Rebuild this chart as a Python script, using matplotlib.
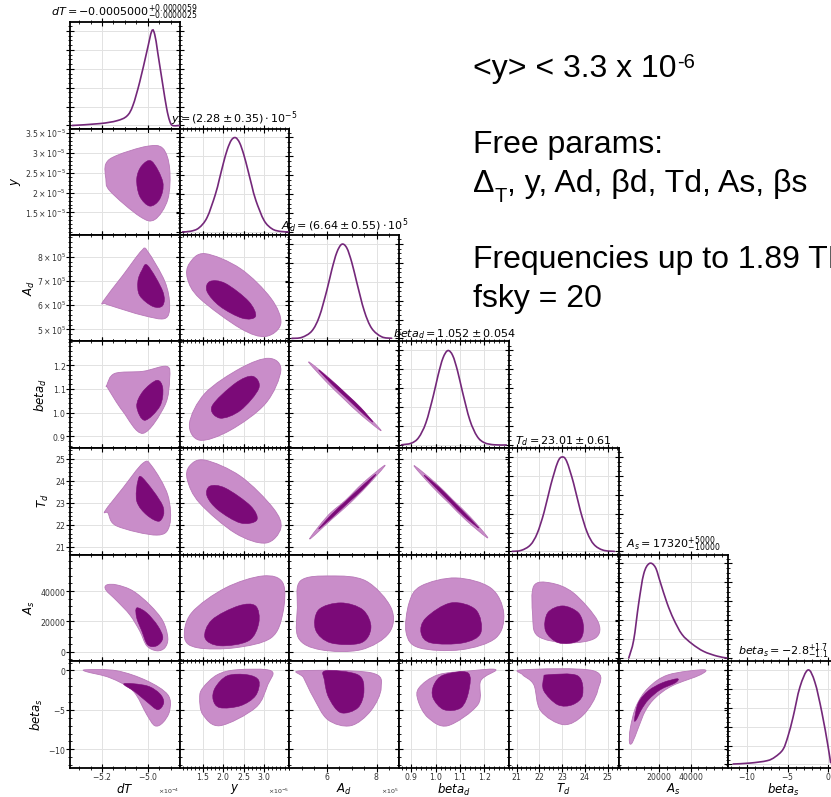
import numpy as np
import matplotlib
matplotlib.use("Agg")
import matplotlib.pyplot as plt
from matplotlib.path import Path
from matplotlib.patches import PathPatch
from matplotlib.ticker import (AutoMinorLocator, FixedLocator, ScalarFormatter,
                               FuncFormatter, MaxNLocator)

# ---------------------------------------------------------------- parameters
labels = [r'$dT$', r'$y$', r'$A_d$', r'$beta_d$', r'$T_d$', r'$A_s$', r'$beta_s$']
titles = [r'$dT = -0.0005000^{+0.0000059}_{-0.0000025}$',
          r'$y = (2.28 \pm 0.35)\cdot 10^{-5}$',
          r'$A_d = (6.64 \pm 0.55)\cdot 10^{5}$',
          r'$beta_d = 1.052 \pm 0.054$',
          r'$T_d = 23.01 \pm 0.61$',
          r'$A_s = 17320^{+5000}_{-10000}$',
          r'$beta_s = -2.8^{+1.7}_{-1.1}$']
# every value below is given in these units
scale = [1e-4, 1e-5, 1e5, 1.0, 1.0, 1e4, 1.0]
ranges = [(-5.34, -4.86), (0.93, 3.62), (4.5, 8.9), (0.85, 1.30),
          (20.65, 25.48), (-0.6, 6.4), (-12.3, 1.2)]
xticks_major = [[-5.2, -5.0], [1.5, 2.0, 2.5, 3.0], [6, 8], [0.9, 1.0, 1.1, 1.2],
                [21, 22, 23, 24, 25], [2, 4], [-10, -5, 0]]
yticks_major = [[], [1.5, 2.0, 2.5, 3.0, 3.5], [5, 6, 7, 8], [0.9, 1.0, 1.1, 1.2],
                [21, 22, 23, 24, 25], [0, 2, 4], [-10, -5, 0]]

# ------------------------------------------------ 1D marginals (peak = 1)
dT_grid = [-5.331, -5.209, -5.135, -5.091, -5.065, -5.035, -5.004, -4.982,
           -4.969, -4.956, -4.934, -4.917, -4.904, -4.891, -4.860]
dT_pdf = [0.0, 0.02, 0.05, 0.10, 0.21, 0.46, 0.78, 1.0, 0.96, 0.77, 0.43,
          0.18, 0.05, 0.0, 0.0]
y_grid = [1.0, 1.2, 1.4, 1.6, 1.8, 1.9, 2.0, 2.1, 2.2, 2.3, 2.4, 2.5, 2.6,
          2.7, 2.8, 3.0, 3.2, 3.4, 3.6]
y_pdf = [0.001, 0.008, 0.043, 0.152, 0.391, 0.554, 0.726, 0.876, 0.974, 0.998,
         0.943, 0.820, 0.659, 0.487, 0.331, 0.121, 0.032, 0.006, 0.001]
Ad_grid = [4.6, 5.0, 5.4, 5.7, 6.0, 6.2, 6.4, 6.6, 6.8, 7.0, 7.2, 7.5, 7.8, 8.2, 8.6]
Ad_pdf = [0.001, 0.012, 0.079, 0.232, 0.508, 0.727, 0.909, 0.997, 0.959, 0.807,
          0.596, 0.294, 0.108, 0.018, 0.002]
bd_grid = [0.86, 0.90, 0.93, 0.96, 0.99, 1.01, 1.03, 1.05, 1.07, 1.09, 1.11,
           1.14, 1.17, 1.20, 1.24, 1.29]
bd_pdf = [0.002, 0.019, 0.078, 0.235, 0.517, 0.739, 0.920, 0.999, 0.946, 0.781,
          0.562, 0.265, 0.092, 0.024, 0.002, 0.0]
Td_grid = [20.8, 21.2, 21.6, 21.9, 22.2, 22.5, 22.8, 23.0, 23.2, 23.5, 23.8,
           24.1, 24.4, 24.8, 25.3]
Td_pdf = [0.001, 0.012, 0.069, 0.191, 0.413, 0.705, 0.943, 1.0, 0.953, 0.724,
          0.433, 0.203, 0.074, 0.014, 0.001]
As_grid = [0.055, 0.37, 0.69, 1.01, 1.37, 1.75, 2.07, 2.50, 2.92, 3.45, 4.09,
           4.83, 5.68, 6.31]
As_pdf = [0.0, 0.19, 0.58, 0.89, 1.0, 0.96, 0.80, 0.58, 0.41, 0.25, 0.15, 0.07,
          0.02, 0.0]
bs_grid = [-11.69, -9.60, -7.51, -6.53, -5.55, -4.94, -4.32, -3.47, -2.48,
           -1.63, -0.77, -0.03, 0.3]
bs_pdf = [0.005, 0.015, 0.04, 0.08, 0.16, 0.30, 0.50, 0.82, 1.0, 0.87, 0.55,
          0.20, 0.02]
marginals = [(dT_grid, dT_pdf), (y_grid, y_pdf), (Ad_grid, Ad_pdf), (bd_grid, bd_pdf),
             (Td_grid, Td_pdf), (As_grid, As_pdf), (bs_grid, bs_pdf)]

# ------------------------- 2D credible regions: (column param, row param)
y_dT_95 = ([-5.183, -5.135, -5.004, -4.934, -4.904, -4.912, -4.969, -5.035, -5.165, -5.183],
           [2.73, 2.94, 3.17, 3.12, 2.61, 1.83, 1.32, 1.40, 2.04, 2.35])
y_dT_68 = ([-4.982, -4.934, -4.947, -4.991, -5.035, -5.048, -5.026],
           [2.79, 2.27, 1.84, 1.66, 1.91, 2.35, 2.68])
Ad_dT_95 = ([-5.196, -5.109, -5.026, -5.000, -4.925, -4.904, -4.925, -5.021, -5.152, -5.187],
            [6.15, 7.23, 8.26, 8.22, 6.98, 5.99, 5.45, 5.58, 5.95, 6.07])
Ad_dT_68 = ([-5.000, -4.934, -4.934, -4.978, -5.035, -5.043, -5.026],
            [7.64, 6.57, 5.99, 5.95, 6.40, 6.98, 7.43])
bd_dT_95 = ([-5.179, -5.144, -5.021, -4.917, -4.904, -4.925, -5.021, -5.109, -5.174],
            [1.115, 1.165, 1.174, 1.195, 1.144, 1.030, 0.912, 1.005, 1.102])
bd_dT_68 = ([-4.960, -4.934, -4.947, -5.013, -5.048, -5.021],
            [1.136, 1.102, 1.026, 0.967, 1.026, 1.089])
Td_dT_95 = ([-5.187, -5.109, -5.021, -4.982, -4.912, -4.904, -4.960, -5.135, -5.174],
            [22.62, 23.66, 24.79, 24.66, 23.34, 21.99, 21.53, 21.94, 22.53])
Td_dT_68 = ([-5.021, -4.934, -4.947, -5.004, -5.048, -5.043],
            [24.11, 22.85, 22.17, 22.44, 23.07, 23.98])
As_dT_95 = ([-5.179, -5.135, -5.065, -4.991, -4.934, -4.912, -4.925, -4.960, -5.004,
             -5.035, -5.078, -5.135, -5.183],
            [4.40, 4.40, 4.01, 3.09, 2.04, 0.92, 0.27, 0.07, 0.40, 1.38, 2.43, 3.35, 4.07])
As_dT_68 = ([-5.048, -5.004, -4.956, -4.934, -4.960, -5.000, -5.026, -5.048],
            [2.89, 2.56, 1.71, 0.92, 0.40, 0.46, 1.38, 2.23])
bs_dT_95 = ([-5.270, -5.135, -5.004, -4.912, -4.904, -4.934, -4.969, -5.004, -5.065,
             -5.165, -5.266],
            [0.09, -0.04, -1.30, -3.08, -5.10, -6.62, -7.00, -5.61, -2.57, -0.93, -0.17])
bs_dT_68 = ([-5.104, -5.004, -4.947, -4.930, -4.956, -5.004, -5.056],
            [-1.68, -1.94, -2.95, -4.09, -4.97, -3.96, -2.70])

Ad_y_95 = ([1.17, 1.55, 2.42, 3.17, 3.41, 3.04, 2.42, 1.42, 1.12],
           [7.73, 8.13, 7.51, 6.28, 5.25, 4.71, 5.04, 6.28, 7.10])
Ad_y_68 = ([1.67, 2.05, 2.62, 2.79, 2.47, 1.92, 1.60],
           [6.98, 6.90, 6.16, 5.54, 5.46, 5.95, 6.57])
bd_y_95 = ([1.17, 1.55, 2.42, 3.12, 3.41, 3.04, 2.17, 1.42],
           [0.954, 1.081, 1.187, 1.229, 1.178, 1.039, 0.925, 0.883])
bd_y_68 = ([1.72, 2.29, 2.72, 2.87, 2.42, 1.92],
           [1.026, 1.123, 1.153, 1.102, 1.009, 0.976])
Td_y_95 = ([1.17, 1.55, 2.42, 3.22, 3.41, 3.04, 2.29, 1.42, 1.12],
           [24.66, 24.93, 24.20, 22.76, 21.85, 21.17, 21.62, 22.98, 24.02])
Td_y_68 = ([1.67, 2.05, 2.67, 2.82, 2.42, 1.87, 1.60],
           [23.75, 23.66, 22.85, 22.21, 22.08, 22.67, 23.30])
As_y_95 = ([1.05, 1.22, 2.05, 2.97, 3.46, 3.46, 3.17, 2.29, 1.37],
           [0.92, 2.56, 4.20, 4.99, 4.53, 2.56, 0.92, 0.27, 0.27])
As_y_68 = ([1.55, 1.72, 2.37, 2.79, 2.87, 2.62, 1.92],
           [0.92, 2.10, 3.02, 3.02, 1.91, 0.73, 0.40])
bs_y_95 = ([1.85, 2.34, 3.17, 3.09, 2.79, 1.92, 1.50, 1.42, 1.50],
           [-0.55, 0.09, -0.04, -1.81, -4.72, -7.00, -5.61, -3.46, -2.19])
bs_y_68 = ([1.80, 2.10, 2.59, 2.87, 2.79, 2.42, 1.92, 1.75],
           [-2.19, -0.67, -0.55, -1.30, -3.20, -4.47, -4.72, -3.71])

bd_Ad_95 = ([5.27, 6.10, 6.79, 7.47, 8.18, 7.35, 6.65, 5.97],
            [1.214, 1.145, 1.076, 1.005, 0.923, 0.992, 1.061, 1.131])
bd_Ad_68 = ([5.67, 6.32, 6.84, 7.37, 7.85, 7.29, 6.76, 6.24],
            [1.180, 1.123, 1.073, 1.020, 0.959, 1.011, 1.064, 1.115])
Td_Ad_95 = ([5.31, 6.19, 6.90, 7.60, 8.34, 7.46, 6.75, 6.04],
            [21.35, 22.24, 22.95, 23.74, 24.70, 23.90, 23.11, 22.41])
Td_Ad_68 = ([5.67, 6.28, 6.86, 7.45, 7.97, 7.37, 6.78, 6.20],
            [21.80, 22.39, 23.00, 23.61, 24.29, 23.71, 23.09, 22.48])
As_Ad_95 = ([4.94, 6.16, 7.57, 8.58, 8.50, 7.37, 5.75, 4.86, 4.82],
            [4.66, 4.99, 4.66, 2.89, 1.25, 0.14, 0.14, 0.92, 2.89])
As_Ad_68 = ([5.67, 6.56, 7.45, 7.77, 7.37, 6.16, 5.55],
            [2.76, 3.22, 2.76, 1.58, 0.59, 0.59, 1.45])
bs_Ad_95 = ([4.94, 7.77, 8.18, 7.77, 6.96, 6.04, 5.47, 5.07],
            [-0.04, -0.29, -2.19, -5.10, -7.00, -6.24, -3.46, -0.93])
bs_Ad_68 = ([5.95, 7.25, 7.49, 7.25, 6.56, 6.08, 5.91],
            [-0.04, -0.55, -2.57, -4.72, -5.35, -3.46, -1.30])

Td_bd_95 = ([0.911, 0.998, 1.070, 1.142, 1.214, 1.127, 1.055, 0.984],
            [24.68, 23.91, 23.13, 22.35, 21.40, 22.18, 22.97, 23.75])
Td_bd_68 = ([0.952, 1.014, 1.069, 1.124, 1.177, 1.116, 1.061, 1.005],
            [24.25, 23.70, 23.09, 22.48, 21.85, 22.39, 23.00, 23.62])
As_bd_95 = ([0.891, 0.940, 1.083, 1.226, 1.279, 1.247, 1.104, 0.932, 0.879],
            [3.22, 4.33, 4.86, 4.20, 2.56, 0.92, 0.14, 0.27, 1.25])
As_bd_68 = ([0.960, 1.063, 1.165, 1.185, 1.112, 0.981, 0.940],
            [2.23, 3.22, 2.76, 1.25, 0.59, 0.59, 1.25])
bs_bd_95 = ([0.932, 1.010, 1.144, 1.247, 1.185, 1.173, 1.050, 0.969, 0.928],
            [-2.19, -0.55, -0.04, 0.09, -1.30, -4.34, -7.00, -5.99, -3.83])
bs_bd_68 = ([0.993, 1.034, 1.132, 1.136, 1.104, 1.034, 0.989],
            [-1.81, -0.55, -0.29, -2.57, -4.72, -4.97, -3.46])

As_Td_95 = ([21.75, 22.49, 23.50, 24.56, 24.47, 23.24, 21.92, 21.70],
            [4.33, 4.53, 3.87, 2.04, 0.92, 0.59, 1.05, 2.43])
As_Td_68 = ([22.36, 23.02, 23.72, 23.94, 23.72, 22.85, 22.27],
            [2.56, 3.02, 2.56, 1.58, 0.73, 0.59, 1.38])
bs_Td_95 = ([21.26, 24.38, 24.56, 23.94, 23.06, 22.05, 21.75, 21.26],
            [0.09, -0.04, -2.57, -5.61, -6.87, -5.10, -1.81, -0.55])
bs_Td_68 = ([22.36, 23.68, 23.90, 23.46, 22.80, 22.19, 22.19],
            [-0.55, -0.67, -3.08, -4.34, -4.34, -2.57, -0.93])

bs_As_95 = ([0.10, 0.16, 0.54, 1.31, 2.58, 4.81, 4.62, 2.83, 1.75, 1.12, 0.67, 0.29],
            [-9.12, -7.25, -4.47, -2.19, -0.55, 0.09, -0.55, -1.94, -3.46, -5.10, -7.25, -9.12])
bs_As_68 = ([0.42, 0.67, 1.31, 2.20, 3.15, 3.03, 2.07, 1.31, 0.86, 0.54],
            [-6.24, -4.09, -2.57, -1.56, -1.05, -1.56, -2.44, -3.71, -4.97, -6.24])

regions = {
    (1, 0): (y_dT_95, y_dT_68), (2, 0): (Ad_dT_95, Ad_dT_68),
    (3, 0): (bd_dT_95, bd_dT_68), (4, 0): (Td_dT_95, Td_dT_68),
    (5, 0): (As_dT_95, As_dT_68), (6, 0): (bs_dT_95, bs_dT_68),
    (2, 1): (Ad_y_95, Ad_y_68), (3, 1): (bd_y_95, bd_y_68),
    (4, 1): (Td_y_95, Td_y_68), (5, 1): (As_y_95, As_y_68),
    (6, 1): (bs_y_95, bs_y_68),
    (3, 2): (bd_Ad_95, bd_Ad_68), (4, 2): (Td_Ad_95, Td_Ad_68),
    (5, 2): (As_Ad_95, As_Ad_68), (6, 2): (bs_Ad_95, bs_Ad_68),
    (4, 3): (Td_bd_95, Td_bd_68), (5, 3): (As_bd_95, As_bd_68),
    (6, 3): (bs_bd_95, bs_bd_68),
    (5, 4): (As_Td_95, As_Td_68), (6, 4): (bs_Td_95, bs_Td_68),
    (6, 5): (bs_As_95, bs_As_68),
}

# ------------------------------------------------------------ styling
LIGHT = '#c98dc9'
LIGHT_EDGE = '#b878b8'
DARK = '#7b0a78'
LINE = '#74287a'
GRID = '#e2e2e2'
TICK_FS = 5.6


def catmull_path(xs, ys, closed):
    """Smooth path through the given vertices (Catmull-Rom as cubic Beziers)."""
    P = np.column_stack([xs, ys]).astype(float)
    n = len(P)
    verts = [P[0]]
    codes = [Path.MOVETO]
    segs = n if closed else n - 1
    for i in range(segs):
        if closed:
            p0, p1, p2, p3 = P[(i - 1) % n], P[i], P[(i + 1) % n], P[(i + 2) % n]
        else:
            p0 = P[max(i - 1, 0)]
            p1, p2 = P[i], P[i + 1]
            p3 = P[min(i + 2, n - 1)]
        verts += [p1 + (p2 - p0) / 6.0, p2 - (p3 - p1) / 6.0, p2]
        codes += [Path.CURVE4] * 3
    if closed:
        verts.append(P[0])
        codes.append(Path.CLOSEPOLY)
    return Path(np.array(verts), codes)


def sci_tex(v, pos):
    if v == 0:
        return '0'
    e = int(np.floor(np.log10(abs(v)) + 1e-9))
    m = v / 10.0 ** e
    ms = ('%.1f' % m).rstrip('0').rstrip('.')
    return r'$%s\times10^{%d}$' % (ms, e)


def sci_formatter():
    f = ScalarFormatter(useMathText=True, useOffset=False)
    f.set_powerlimits((-3, 5))
    return f


W, H = 831, 797
fig = plt.figure(figsize=(W / 100, H / 100), dpi=100)
X0, Y0, CW, RH = 70.0, 22.0, 109.7, 106.5
n = 7
# horizontal placement of the left-column labels that sit next to wide tick labels
ylabel_x = {1: -0.43, 2: -0.30}

for i in range(n):
    for j in range(i + 1):
        ax = fig.add_axes([(X0 + j * CW) / W, 1 - (Y0 + (i + 1) * RH) / H, CW / W, RH / H])
        sx = scale[j]
        ax.set_xlim(ranges[j][0] * sx, ranges[j][1] * sx)
        ax.xaxis.set_major_locator(FixedLocator(np.array(xticks_major[j]) * sx))
        ax.xaxis.set_minor_locator(AutoMinorLocator())
        ax.xaxis.set_major_formatter(sci_formatter())

        if i == j:
            gx, gp = marginals[i]
            ax.set_ylim(-0.032, 1.095)
            ax.yaxis.set_major_locator(MaxNLocator(6))
            ax.yaxis.set_minor_locator(AutoMinorLocator())
            path = catmull_path(np.array(gx) * sx, gp, closed=False)
            ax.add_patch(PathPatch(path, fill=False, edgecolor=LINE, lw=1.2,
                                   zorder=3, capstyle='round'))
            ax.set_title(titles[i], fontsize=8, pad=2.5)
        else:
            sy = scale[i]
            ax.set_ylim(ranges[i][0] * sy, ranges[i][1] * sy)
            ax.yaxis.set_major_locator(FixedLocator(np.array(yticks_major[i]) * sy))
            ax.yaxis.set_minor_locator(AutoMinorLocator())
            if i in (1, 2):
                ax.yaxis.set_major_formatter(FuncFormatter(sci_tex))
            else:
                ax.yaxis.set_major_formatter(sci_formatter())
            outer, inner = regions[(i, j)]
            po = catmull_path(np.array(outer[0]) * sx, np.array(outer[1]) * sy, closed=True)
            pi = catmull_path(np.array(inner[0]) * sx, np.array(inner[1]) * sy, closed=True)
            ax.add_patch(PathPatch(po, facecolor=LIGHT, edgecolor=LIGHT_EDGE, lw=0.6, zorder=2))
            ax.add_patch(PathPatch(pi, facecolor=DARK, edgecolor=DARK, lw=0.4, zorder=3))

        ax.grid(True, which='major', color=GRID, lw=0.7, zorder=0)
        ax.set_axisbelow(True)
        ax.tick_params(which='both', direction='inout', top=True, right=True,
                       labelsize=TICK_FS, colors='black', labelcolor='#333333', pad=0.0)
        ax.tick_params(which='major', length=5.5, width=0.8)
        ax.tick_params(which='minor', length=2.8, width=0.6)
        ax.tick_params(labelbottom=(i == n - 1), labelleft=(j == 0 and i > 0))
        ax.xaxis.get_offset_text().set_fontsize(4.5)
        for s in ax.spines.values():
            s.set_linewidth(1.3)
            s.set_color('black')
        if i == n - 1:
            ax.set_xlabel(labels[j], fontsize=8.5, labelpad=0.0)
        if j == 0 and i > 0:
            ax.set_ylabel(labels[i], fontsize=8.5, labelpad=2.5)
            if i in ylabel_x:
                ax.yaxis.set_label_coords(ylabel_x[i], 0.5)

# ---------------------------------------------------- side annotations
renderer = fig.canvas.get_renderer()


def put(xpx, base_px, s, size):
    t = fig.text(xpx / W, 1 - base_px / H, s, fontsize=size, family='Liberation Sans',
                 va='baseline', ha='left', color='black')
    return t.get_window_extent(renderer=renderer).x1


BIG, SMALL = 23, 14.5
x = put(473, 77, '<y> < 3.3 x 10', BIG)
put(x + 1, 68, '-6', SMALL)
put(473, 153, 'Free params:', BIG)
x = put(473, 192, '\u0394', BIG)
x = put(x, 202, 'T', SMALL)
put(x, 192, ', y, Ad, \u03b2d, Td, As, \u03b2s', BIG)
put(473, 268, 'Frequencies up to 1.89 THz', BIG)
put(473, 307, 'fsky = 20', BIG)

fig.savefig('out.png', dpi=100)
